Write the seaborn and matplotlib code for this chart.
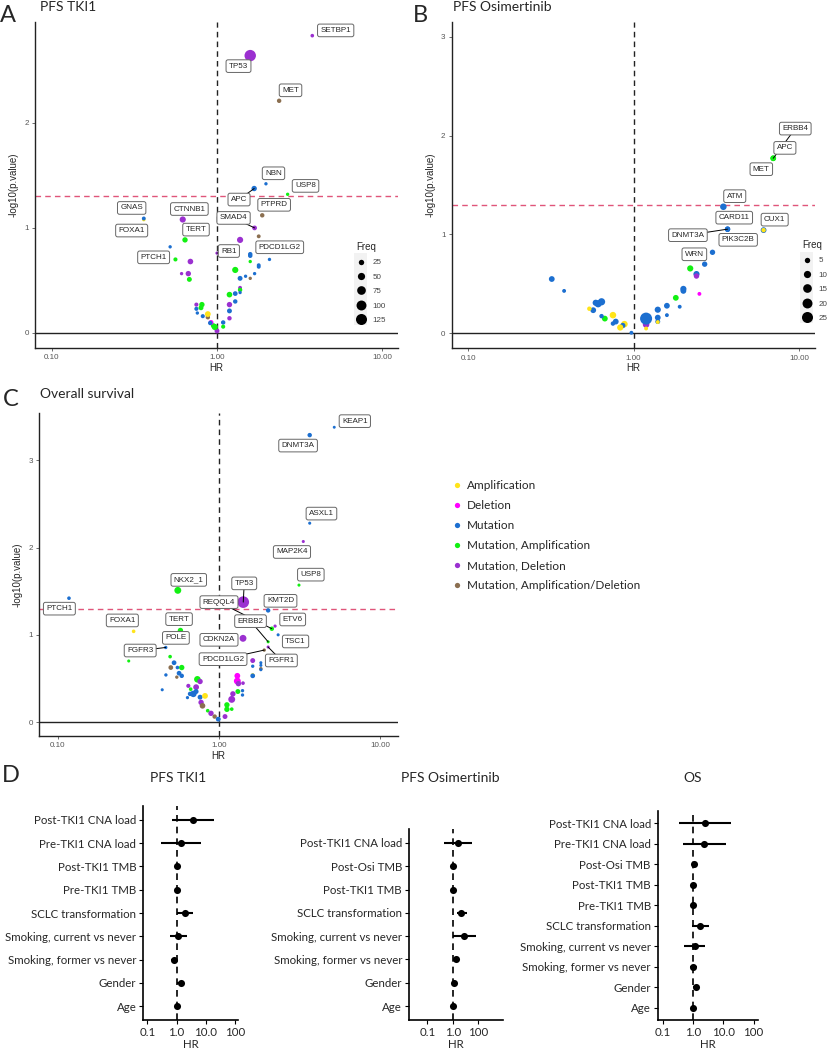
import numpy as np
import pandas as pd
import matplotlib
matplotlib.use("Agg")
import matplotlib.pyplot as plt
import seaborn as sns
from matplotlib.lines import Line2D
from matplotlib.patches import Rectangle
from matplotlib.ticker import NullLocator

sns.set_theme(style="white")
plt.rcParams["font.family"] = ["Liberation Sans", "DejaVu Sans"]

TYPE_NAMES = {"A": "Amplification", "D": "Deletion", "M": "Mutation",
              "MA": "Mutation, Amplification", "MD": "Mutation, Deletion",
              "MAD": "Mutation, Amplification/Deletion"}
TYPE_ORDER = ["A", "D", "M", "MA", "MD", "MAD"]
PALETTE = {"Amplification": "#FFE41A", "Deletion": "#FF00FF", "Mutation": "#1C6FD0",
           "Mutation, Amplification": "#12F012", "Mutation, Deletion": "#9B30D0",
           "Mutation, Amplification/Deletion": "#8B6F50"}
RED = "#E0557A"

# ---------------- Panel A: PFS TKI1 ----------------
a_gene = ["SETBP1", "TP53", "MET", "NBN", "APC", "USP8", "PTPRD", "SMAD4",
          "", "", "PDCD1LG2", "", "", "", "", "",
          "", "", "", "", "", "", "", "",
          "", "", "", "", "", "", "", "",
          "", "", "", "", "", "", "", "",
          "", "", "", "", "", "", "", "",
          "", "PTCH1", "", "TERT", "CTNNB1", "FOXA1", "GNAS", "RB1"]
a_hr = [3.78, 1.59, 2.38, 1.98, 1.68, 2.68, 1.88, 1.69,
        1.79, 1.38, 1.59, 1.59, 2.08, 1.59, 1.79, 1.79,
        1.29, 1.69, 1.49, 1.38, 1.59, 1.38, 1.38, 1.38,
        1.29, 1.19, 1.29, 1.19, 1.19, 1.19, 1.09, 1.09,
        1.00, 0.97, 0.95, 0.92, 0.91, 0.88, 0.88, 0.82,
        0.81, 0.80, 0.75, 0.75, 0.76, 0.68, 0.67, 0.61,
        0.69, 0.56, 0.52, 0.64, 0.62, 0.36, 0.36, 1.00]
a_logp = [2.83, 2.64, 2.21, 1.42, 1.375, 1.32, 1.12, 1.00,
          0.92, 0.886, 0.75, 0.735, 0.70, 0.68, 0.645, 0.63,
          0.60, 0.565, 0.54, 0.52, 0.52, 0.43, 0.41, 0.385,
          0.375, 0.365, 0.30, 0.27, 0.21, 0.14, 0.10, 0.06,
          0.02, 0.057, 0.07, 0.10, 0.095, 0.15, 0.18, 0.16,
          0.27, 0.24, 0.27, 0.23, 0.19, 0.51, 0.565, 0.565,
          0.68, 0.70, 0.82, 0.886, 1.08, 1.08, 1.09, 0.76]
a_type = ["MD", "MD", "MAD", "M", "M", "MA", "MAD", "MD",
          "MAD", "MD", "M", "M", "M", "MA", "M", "M",
          "MA", "M", "M", "M", "MAD", "MD", "MA", "M",
          "M", "MA", "M", "MD", "M", "MD", "M", "MA",
          "MD", "MA", "MA", "D", "M", "MAD", "A", "M",
          "MA", "MA", "MD", "M", "M", "MA", "MD", "MD",
          "MD", "MA", "M", "MA", "MD", "A", "M", "MD"]
a_freq = [8, 135, 15, 6, 25, 6, 15, 18,
          10, 35, 15, 15, 6, 6, 10, 10,
          35, 6, 6, 20, 6, 10, 15, 6,
          18, 28, 15, 25, 20, 15, 15, 12,
          20, 35, 20, 20, 15, 15, 30, 12,
          25, 20, 12, 12, 6, 20, 25, 6,
          28, 12, 6, 25, 35, 8, 10, 5]
a_labels = {"SETBP1": (5.24, 2.88), "TP53": (1.35, 2.54), "MET": (2.79, 2.31),
            "NBN": (2.20, 1.52), "USP8": (3.44, 1.40), "APC": (1.36, 1.27),
            "PTPRD": (2.22, 1.22), "SMAD4": (1.26, 1.095), "CTNNB1": (0.68, 1.18),
            "GNAS": (0.304, 1.19), "FOXA1": (0.304, 0.975), "TERT": (0.746, 0.984),
            "PDCD1LG2": (2.40, 0.816), "RB1": (1.18, 0.78), "PTCH1": (0.413, 0.72)}
a_segments = ["APC", "SMAD4", "RB1"]

# ---------------- Panel B: PFS Osimertinib ----------------
b_gene = ["ERBB4", "MET", "APC", "ATM", "CARD11", "DNMT3A", "PIK3C2B", "CUX1",
          "", "WRN", "", "", "", "", "", "",
          "", "", "", "", "", "", "", "",
          "", "", "", "", "", "", "", "",
          "", "", "", "", "", "", "", "",
          "", "", "", ""]
b_hr = [6.99, 6.99, 6.99, 3.49, 3.70, 3.70, 3.70, 6.11,
        6.11, 3.0, 2.69, 2.2, 2.4, 2.4, 2.5, 2.0,
        2.0, 1.8, 1.9, 1.59, 1.59, 1.40, 1.40, 1.40,
        1.40, 1.19, 1.19, 1.19, 0.97, 0.88, 0.86, 0.83,
        0.78, 0.75, 0.75, 0.67, 0.64, 0.64, 0.61, 0.59,
        0.57, 0.54, 0.38, 0.32]
b_logp = [1.77, 1.77, 1.77, 1.28, 1.054, 1.054, 1.05, 1.044,
          1.044, 0.82, 0.70, 0.657, 0.60, 0.58, 0.40, 0.45,
          0.43, 0.36, 0.27, 0.28, 0.185, 0.24, 0.16, 0.12,
          0.115, 0.09, 0.05, 0.15, 0.007, 0.094, 0.08, 0.06,
          0.12, 0.185, 0.10, 0.15, 0.175, 0.32, 0.30, 0.31,
          0.235, 0.25, 0.43, 0.55]
b_type = ["M", "MA", "MA", "M", "M", "M", "M", "M",
          "A", "M", "M", "MA", "M", "MD", "D", "M",
          "M", "MA", "M", "M", "M", "M", "M", "M",
          "A", "MD", "A", "M", "M", "A", "M", "A",
          "M", "A", "M", "MA", "M", "M", "M", "M",
          "M", "A", "M", "M"]
b_freq = [4, 5, 6, 8, 5, 5, 4, 6,
          3, 5, 5, 7, 7, 5, 2, 7,
          6, 6, 2, 6, 2, 7, 6, 4,
          2, 8, 2, 30, 2, 8, 5, 7,
          6, 8, 3, 6, 3, 10, 10, 7,
          6, 3, 2, 6]
b_labels = {"ERBB4": (9.5, 2.07), "APC": (8.22, 1.875), "MET": (5.92, 1.66),
            "ATM": (4.09, 1.387), "CARD11": (4.06, 1.17), "CUX1": (7.13, 1.15),
            "DNMT3A": (2.13, 0.993), "PIK3C2B": (4.29, 0.946), "WRN": (2.33, 0.80)}
b_segments = ["ERBB4", "DNMT3A"]

# ---------------- Panel C: Overall survival ----------------
c_named = ["KEAP1", "DNMT3A", "ASXL1", "MAP2K4", "USP8", "NKX2_1", "PTCH1", "TP53",
           "KMT2D", "ETV6", "REQQL4", "TSC1", "ERBB2", "FGFR1", "PDCD1LG2", "CDKN2A",
           "FOXA1", "POLE", "TERT", "FGFR3"]
c_hr = [5.2, 3.66, 3.66, 3.34, 3.14, 0.555, 0.117, 1.415,
        2.02, 2.23, 2.13, 2.33, 2.02, 2.02, 1.91, 1.41,
        0.295, 0.57, 0.576, 0.467,
        0.275, 0.497, 0.526, 0.502, 0.552, 0.587, 0.565, 0.547,
        0.587, 0.468, 0.444, 0.734, 0.763, 0.645, 0.667, 0.721,
        0.721, 0.693, 0.661, 0.637, 0.763, 0.819, 0.774, 0.79,
        0.851, 0.892, 0.94, 0.99,
        1.30, 1.30, 1.32, 1.41, 1.40, 1.40, 1.31, 1.22,
        1.20, 1.12, 1.12, 1.20, 1.09, 1.62, 1.62, 1.62,
        1.62, 1.82, 1.82, 1.82, 1.82]
c_logp = [3.38, 3.29, 2.28, 2.07, 1.57, 1.51, 1.42, 1.375,
          1.28, 1.10, 1.07, 1.00, 0.92, 0.86, 0.825, 0.96,
          1.04, 1.03, 1.05, 0.855,
          0.70, 0.75, 0.68, 0.625, 0.625, 0.625, 0.56, 0.515,
          0.53, 0.54, 0.37, 0.49, 0.465, 0.415, 0.377, 0.40,
          0.35, 0.323, 0.323, 0.28, 0.285, 0.30, 0.225, 0.186,
          0.13, 0.10, 0.063, 0.033,
          0.53, 0.47, 0.44, 0.446, 0.36, 0.31, 0.35, 0.323,
          0.26, 0.197, 0.146, 0.148, 0.063, 0.705, 0.64, 0.54,
          0.53, 0.68, 0.65, 0.61, 0.60]
c_type = ["M", "M", "M", "MD", "MA", "MA", "M", "MD",
          "M", "MD", "MA", "M", "MA", "MD", "MAD", "MD",
          "A", "M", "MA", "M",
          "MA", "MA", "M", "MAD", "M", "MA", "M", "MAD",
          "M", "M", "M", "MA", "MD", "MD", "MA", "MD",
          "M", "M", "M", "M", "M", "A", "MD", "MAD",
          "MA", "MD", "MAD", "M",
          "D", "D", "MD", "MD", "M", "M", "MA", "MD",
          "MD", "MA", "MA", "MA", "MD", "MD", "M", "A",
          "M", "M", "M", "MAD", "M"]
c_freq = [3, 15, 4, 4, 4, 45, 8, 140,
          15, 5, 15, 4, 4, 4, 6, 45,
          8, 10, 25, 6,
          4, 8, 18, 18, 8, 25, 18, 6,
          15, 6, 4, 40, 25, 12, 8, 30,
          20, 40, 15, 5, 20, 30, 25, 28,
          8, 25, 15, 20,
          30, 45, 25, 8, 6, 6, 20, 25,
          45, 25, 25, 8, 20, 20, 6, 8,
          18, 4, 4, 8, 4]
c_gene = c_named + [""] * (len(c_hr) - len(c_named))
c_labels = {"KEAP1": (6.98, 3.45), "DNMT3A": (3.10, 3.17), "ASXL1": (4.33, 2.39),
            "MAP2K4": (2.84, 1.95), "USP8": (3.72, 1.69), "NKX2_1": (0.649, 1.63),
            "TP53": (1.435, 1.59), "REQQL4": (1.0, 1.375), "KMT2D": (2.41, 1.39),
            "PTCH1": (0.102, 1.30), "ETV6": (2.87, 1.176), "ERBB2": (1.57, 1.157),
            "FOXA1": (0.251, 1.165), "TERT": (0.565, 1.18), "POLE": (0.54, 0.965),
            "CDKN2A": (1.0, 0.943), "TSC1": (2.99, 0.924), "FGFR3": (0.324, 0.82),
            "PDCD1LG2": (1.06, 0.721), "FGFR1": (2.44, 0.706)}
c_segments = ["TP53", "REQQL4", "ERBB2", "FGFR1", "PDCD1LG2", "FGFR3"]

# ---------------- Panel D: forest plots ----------------
d1_vars = ["Post-TKI1 CNA load", "Pre-TKI1 CNA load", "Post-TKI1 TMB", "Pre-TKI1 TMB",
           "SCLC transformation", "Smoking, current vs never", "Smoking, former vs never",
           "Gender", "Age"]
d1_hr = [3.8, 1.42, 1.02, 1.0, 1.95, 1.14, 0.83, 1.38, 1.0]
d1_lo = [0.71, 0.30, 0.95, 0.96, 1.05, 0.62, 0.67, 1.05, 0.97]
d1_hi = [19.5, 7.1, 1.1, 1.05, 3.8, 2.35, 1.05, 1.7, 1.03]

d2_vars = ["Post-TKI1 CNA load", "Post-Osi TMB", "Post-TKI1 TMB", "SCLC transformation",
           "Smoking, current vs never", "Smoking, former vs never", "Gender", "Age"]
d2_hr = [1.67, 1.0, 1.03, 2.19, 2.8, 1.35, 1.13, 1.0]
d2_lo = [0.47, 0.95, 0.98, 1.44, 1.06, 1.13, 0.95, 0.96]
d2_hi = [5.9, 1.05, 1.08, 3.55, 8.05, 1.57, 1.35, 1.04]

d3_vars = ["Post-TKI1 CNA load", "Pre-TKI1 CNA load", "Post-Osi TMB", "Post-TKI1 TMB",
           "Pre-TKI1 TMB", "SCLC transformation", "Smoking, current vs never",
           "Smoking, former vs never", "Gender", "Age"]
d3_hr = [2.4, 2.3, 1.1, 1.0, 1.0, 1.66, 1.19, 1.0, 1.29, 1.0]
d3_lo = [0.34, 0.46, 1.0, 0.95, 0.95, 0.9, 0.52, 0.8, 1.02, 0.96]
d3_hi = [17.5, 12.2, 1.2, 1.05, 1.05, 3.3, 2.55, 1.35, 1.6, 1.04]

W, H = 827, 1050
fig = plt.figure(figsize=(W / 100, H / 100), dpi=100)


def fr(x0, y0, x1, y1):
    return [x0 / W, 1 - y1 / H, (x1 - x0) / W, (y1 - y0) / H]


SIZES = (3, 75)


def size_of(freq, norm):
    return SIZES[0] + (freq - norm[0]) / (norm[1] - norm[0]) * (SIZES[1] - SIZES[0])


def volcano(rect, gene, hr, logp, typ, freq, labels, segs, xlim, ylim, yticks, norm, freq_leg):
    ax = fig.add_axes(rect)
    df = pd.DataFrame({"gene": gene, "HR": hr, "logp": logp,
                       "Type": [TYPE_NAMES[t] for t in typ], "Freq": freq})
    ax.axvline(1, color="#222222", ls=(0, (4, 3)), lw=1.0, zorder=1)
    ax.axhline(0, color="#222222", lw=1.0, zorder=1)
    ax.axhline(-np.log10(0.05), color=RED, ls=(0, (4, 3)), lw=1.0, zorder=1)
    sns.scatterplot(data=df, x="HR", y="logp", hue="Type", palette=PALETTE,
                    size="Freq", sizes=SIZES, size_norm=norm, linewidth=0,
                    legend=False, ax=ax, zorder=2, alpha=1)
    ax.set_xscale("log")
    ax.set_xlim(*xlim)
    ax.set_ylim(*ylim)
    ax.set_xticks([0.1, 1, 10])
    ax.set_xticklabels(["0.10", "1.00", "10.00"])
    ax.xaxis.set_minor_locator(NullLocator())
    ax.set_yticks(yticks)
    ax.set_yticklabels([str(v) for v in yticks])
    ax.tick_params(axis="both", labelsize=5.8, labelcolor="#555555", length=2.5,
                   width=0.6, color="#555555", direction="out", pad=2)
    ax.tick_params(left=True, bottom=True)
    for s in ["top", "right"]:
        ax.spines[s].set_visible(False)
    for s in ["left", "bottom"]:
        ax.spines[s].set_color("#222222")
        ax.spines[s].set_linewidth(1.0)
    ax.set_xlabel("HR", fontsize=7, labelpad=1)
    ax.set_ylabel("-log10(p.value)", fontsize=7, labelpad=4)
    for name, (lx, ly) in labels.items():
        i = gene.index(name)
        if name in segs:
            ax.plot([hr[i], lx], [logp[i], ly], color="black", lw=0.7, zorder=2.5)
        ax.text(lx, ly, name, ha="center", va="center", fontsize=5.8, zorder=3,
                bbox=dict(boxstyle="round,pad=0.35,rounding_size=0.25", fc="white",
                          ec="#666666", lw=0.7))
    if freq_leg is not None:
        vals, anchor, keybox = freq_leg
        ax.add_patch(Rectangle((keybox[0] / W, 1 - keybox[3] / H),
                               (keybox[2] - keybox[0]) / W, (keybox[3] - keybox[1]) / H,
                               transform=fig.transFigure, facecolor="#F2F2F2",
                               edgecolor="none", zorder=0.5, clip_on=False))
        handles = [Line2D([], [], marker="o", ls="", color="black", markeredgewidth=0,
                          markersize=np.sqrt(size_of(v, norm))) for v in vals]
        leg = ax.legend(handles, [str(v) for v in vals], title="Freq", loc="upper left",
                        bbox_to_anchor=anchor, bbox_transform=fig.transFigure,
                        frameon=False, fontsize=5.8, title_fontsize=7,
                        labelspacing=0.84, handlelength=1.2, handletextpad=0.87,
                        borderpad=0, borderaxespad=0, alignment="left")
        leg.set_zorder(6)
        for t in leg.get_texts():
            t.set_color("#444444")
    return ax


volcano(fr(35, 22, 398, 348), a_gene, a_hr, a_logp, a_type, a_freq, a_labels, a_segments,
        (10 ** -1.103, 10 ** 1.097), (-0.143, 2.96), [0, 1, 2], (0, 150),
        ([25, 50, 75, 100, 125], (356 / W, 1 - 242 / H), (354, 253, 367, 325)))
volcano(fr(451.7, 21.7, 815, 348.3), b_gene, b_hr, b_logp, b_type, b_freq, b_labels, b_segments,
        (10 ** -1.10, 10 ** 1.097), (-0.15, 3.15), [0, 1, 2, 3], (0, 30),
        ([5, 10, 15, 20, 25], (802 / W, 1 - 240 / H), (800, 252, 813, 323)))
volcano(fr(39, 413.3, 398, 736), c_gene, c_hr, c_logp, c_type, c_freq, c_labels, c_segments,
        (10 ** -1.118, 10 ** 1.112), (-0.16, 3.54), [0, 1, 2, 3], (0, 150), None)

# panel letters and titles
for letter, x, y in [("A", 8, 15), ("B", 420, 15), ("C", 11, 399), ("D", 11, 776)]:
    fig.text(x / W, 1 - y / H, letter, fontsize=17, family="Lato", ha="center", va="center")
for title, x, y in [("PFS TKI1", 40, 7), ("PFS Osimertinib", 453, 7), ("Overall survival", 40, 394)]:
    fig.text(x / W, 1 - y / H, title, fontsize=10, family="Lato", ha="left", va="center")

# type legend
type_handles = [Line2D([], [], marker="o", ls="", color=PALETTE[TYPE_NAMES[t]],
                       markeredgewidth=0, markersize=3.8) for t in TYPE_ORDER]
fig.legend(type_handles, [TYPE_NAMES[t] for t in TYPE_ORDER], loc="upper left",
           bbox_to_anchor=(452 / W, 1 - 480 / H), frameon=False,
           prop={"family": "Lato", "size": 8.5}, labelspacing=0.77,
           handlelength=0.8, handletextpad=0.45, borderpad=0, borderaxespad=0)


def forest(rect, vars_, hr, lo, hi, xlim, ticks, ticklabels, title, title_xy):
    ax = fig.add_axes(rect)
    n = len(vars_)
    df = pd.DataFrame({"var": vars_, "HR": hr, "lo": lo, "hi": hi, "pos": np.arange(n)})
    ax.axvline(1, color="black", ls=(0, (4, 3)), lw=1.2, zorder=1)
    ax.hlines(df["pos"], df["lo"], df["hi"], color="black", lw=1.5, zorder=2)
    sns.scatterplot(data=df, x="HR", y="pos", color="black", s=26, linewidth=0,
                    ax=ax, zorder=3, legend=False)
    ax.set_xscale("log")
    ax.set_xlim(*xlim)
    ax.set_ylim(n - 0.4, -0.6)
    ax.set_yticks(np.arange(n))
    ax.set_yticklabels(vars_, family="Lato", fontsize=8.3)
    ax.set_xticks(ticks)
    ax.set_xticklabels(ticklabels, family="Lato", fontsize=8.3)
    ax.xaxis.set_minor_locator(NullLocator())
    ax.tick_params(axis="both", length=3, width=0.8, color="black", direction="out", pad=2,
                   left=True, bottom=True)
    for s in ["top", "right"]:
        ax.spines[s].set_visible(False)
    for s in ["left", "bottom"]:
        ax.spines[s].set_color("black")
        ax.spines[s].set_linewidth(1.2)
    ax.set_xlabel("HR", family="Lato", fontsize=8.3, labelpad=0.5)
    ax.set_ylabel("")
    fig.text(title_xy[0] / W, 1 - title_xy[1] / H, title, family="Lato", fontsize=10,
             ha="center", va="center")
    return ax


forest(fr(143.3, 806, 237.7, 1020), d1_vars, d1_hr, d1_lo, d1_hi,
       (10 ** -1.14, 10 ** 2.1), [0.1, 1, 10, 100], ["0.1", "1.0", "10.0", "100"],
       "PFS TKI1", (178, 778))
forest(fr(409, 829, 502.7, 1020), d2_vars, d2_hr, d2_lo, d2_hi,
       (10 ** -1.72, 10 ** 1.97), [0.1, 1, 10], ["0.1", "1.0", "100"],
       "PFS Osimertinib", (450, 778))
forest(fr(657.7, 811, 758, 1020), d3_vars, d3_hr, d3_lo, d3_hi,
       (10 ** -1.165, 10 ** 2.145), [0.1, 1, 10, 100], ["0.1", "1.0", "10.0", "100"],
       "OS", (693, 778))

fig.savefig("out.png", dpi=100)
